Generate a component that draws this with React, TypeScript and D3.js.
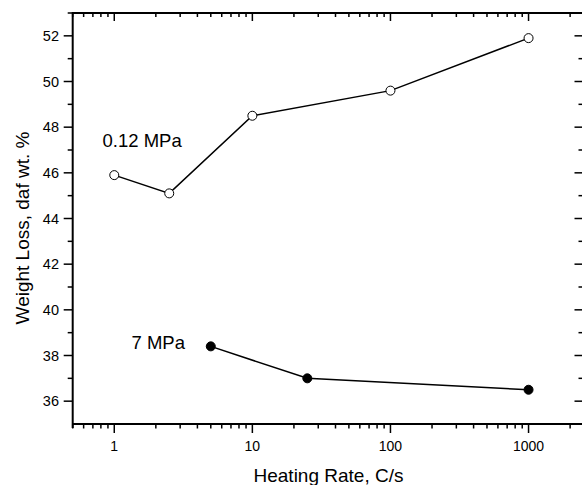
import React from "react";
import * as d3 from "d3";

const lowPressureRates = [1, 2.5, 10, 100, 1000];
const lowPressureLoss = [45.9, 45.1, 48.5, 49.6, 51.9];
const highPressureRates = [5, 25, 1000];
const highPressureLoss = [38.4, 37.0, 36.5];
const xMajorTicks = [1, 10, 100, 1000];
const yMajorTicks = [36, 38, 40, 42, 44, 46, 48, 50, 52];
const seriesLabels = ["0.12 MPa", "7 MPa"];
const xTitle = "Heating Rate, C/s";
const yTitle = "Weight Loss, daf wt. %";

const W = 582;
const H = 485;
const L = 72.7, R = 583.5, T = 13, B = 424;

export default function App() {
  const x = d3.scaleLog().domain([0.5, 2500]).range([L, R]);
  const y = d3.scaleLinear().domain([35, 53]).range([B, T]);

  const xMinor: number[] = [];
  for (let e = -1; e <= 3; e++) {
    for (let m = 1; m <= 9; m++) {
      const v = m * Math.pow(10, e);
      if (v >= 0.5 && v <= 2500 && m !== 1) xMinor.push(v);
    }
  }
  const yMinor: number[] = [];
  for (let v = 37; v <= 53; v += 2) yMinor.push(v);

  const line = d3
    .line<[number, number]>()
    .x((d) => x(d[0]))
    .y((d) => y(d[1]));

  const s1: [number, number][] = lowPressureRates.map((r, i) => [r, lowPressureLoss[i]]);
  const s2: [number, number][] = highPressureRates.map((r, i) => [r, highPressureLoss[i]]);

  const font = "'Liberation Sans', Arial, Helvetica, sans-serif";

  return (
    <svg
      width={W}
      height={H}
      style={{ position: "absolute", left: 0, top: 0, background: "#fff" }}
      fontFamily={font}
    >
      <rect x={0} y={0} width={W} height={H} fill="#fff" />
      {/* frame */}
      <line x1={L} x2={R + 2} y1={T} y2={T} stroke="#000" strokeWidth={2} />
      <line x1={L} x2={R + 2} y1={B} y2={B} stroke="#000" strokeWidth={2} />
      <line x1={L} x2={L} y1={T - 1} y2={B + 4} stroke="#000" strokeWidth={2} />

      {/* x ticks bottom (outward) and top (inward) */}
      {xMajorTicks.map((v) => (
        <g key={"xM" + v}>
          <line x1={x(v)} x2={x(v)} y1={B} y2={B + 9} stroke="#000" strokeWidth={1.5} />
          <line x1={x(v)} x2={x(v)} y1={T} y2={T + 8} stroke="#000" strokeWidth={1.5} />
          <text x={x(v)} y={450.5} fontSize={14} textAnchor="middle" fill="#000">
            {v}
          </text>
        </g>
      ))}
      {xMinor.map((v) => (
        <g key={"xm" + v}>
          <line x1={x(v)} x2={x(v)} y1={B} y2={B + 4.5} stroke="#000" strokeWidth={1.5} />
          <line x1={x(v)} x2={x(v)} y1={T} y2={T + 4} stroke="#000" strokeWidth={1.5} />
        </g>
      ))}

      {/* y ticks left (outward) and right (inward) */}
      {yMajorTicks.map((v) => (
        <g key={"yM" + v}>
          <line x1={L - 9} x2={L} y1={y(v)} y2={y(v)} stroke="#000" strokeWidth={1.5} />
          <line x1={R - 9} x2={R} y1={y(v)} y2={y(v)} stroke="#000" strokeWidth={1.5} />
          <text x={59} y={y(v)} dy="0.36em" fontSize={14.5} textAnchor="end" fill="#000">
            {v}
          </text>
        </g>
      ))}
      {yMinor.map((v) => (
        <g key={"ym" + v}>
          <line x1={L - 5} x2={L} y1={y(v)} y2={y(v)} stroke="#000" strokeWidth={1.5} />
          <line x1={R - 5} x2={R} y1={y(v)} y2={y(v)} stroke="#000" strokeWidth={1.5} />
        </g>
      ))}

      {/* series */}
      <path d={line(s1) || ""} fill="none" stroke="#000" strokeWidth={1.5} />
      <path d={line(s2) || ""} fill="none" stroke="#000" strokeWidth={1.5} />
      {s1.map((d, i) => (
        <circle key={"p1" + i} cx={x(d[0])} cy={y(d[1])} r={4.5} fill="#fff" stroke="#000" strokeWidth={1} />
      ))}
      {s2.map((d, i) => (
        <circle key={"p2" + i} cx={x(d[0])} cy={y(d[1])} r={4.5} fill="#000" stroke="#000" strokeWidth={1} />
      ))}

      {/* series labels */}
      <text x={102.5} y={147} fontSize={18.5} fill="#000">
        {seriesLabels[0]}
      </text>
      <text x={131.5} y={349} fontSize={18.5} fill="#000">
        {seriesLabels[1]}
      </text>

      {/* axis titles */}
      <text x={328.5} y={482} fontSize={19} textAnchor="middle" fill="#000">
        {xTitle}
      </text>
      <text
        transform={`translate(28.5, 228) rotate(-90)`}
        fontSize={19}
        textAnchor="middle"
        fill="#000"
      >
        {yTitle}
      </text>
    </svg>
  );
}
